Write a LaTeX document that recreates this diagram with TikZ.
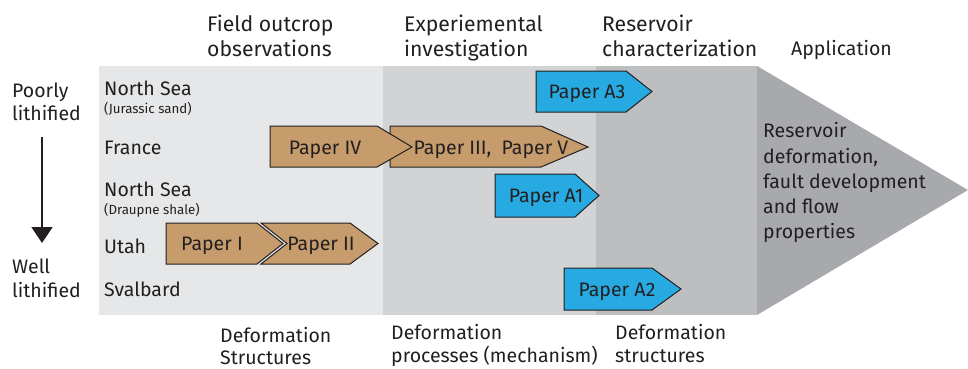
\documentclass[tikz,border=0pt]{standalone}
\usepackage{fontspec}
\setmainfont{Fira Sans}
\usetikzlibrary{arrows.meta}
\definecolor{pA}{HTML}{E6E7E8}
\definecolor{pB}{HTML}{D1D3D4}
\definecolor{pC}{HTML}{BCBEC0}
\definecolor{pD}{HTML}{A7A9AC}
\definecolor{tan}{HTML}{C69C6D}
\definecolor{cyanbox}{HTML}{27AAE1}
\definecolor{ink}{HTML}{231F20}
\begin{document}
\begin{tikzpicture}[x=1pt,y=-1pt,
  t/.style={anchor=base west, inner sep=0pt, text=ink, font=\fontsize{19.5}{23}\selectfont},
  th/.style={t, font=\fontsize{21.2}{25}\selectfont},
  ts/.style={t, font=\fontsize{13.3}{15}\selectfont},
  pt/.style={anchor=base, inner sep=0pt, text=ink, font=\fontsize{19.5}{23}\selectfont},
  brown/.style={fill=tan, draw=ink, line width=1pt, line join=miter},
  bluebox/.style={fill=cyanbox, draw=ink, line width=1pt, line join=miter}]
\useasboundingbox (0,0) rectangle (968,368);
% panels
\fill[pA] (99,66) rectangle (383,315);
\fill[pB] (383,66) rectangle (596,315);
\fill[pC] (596,66) rectangle (757,315);
\fill[pD] (757,66) -- (968,190) -- (757,315) -- cycle;
% headers
\node[th] (h1a) at (207,31) {Field outcrop};
\node[th] (h1b) at (207,56) {observations};
\node[th] (h2a) at (404,31) {Experiemental};
\node[th] (h2b) at (404,56) {investigation};
\node[th] (h3a) at (602,31) {Reservoir};
\node[th] (h3b) at (602,56) {characterization};
\node[t] (h4) at (791,55) {Application};
% left scale
\node[t] (poor1) at (12,97) {Poorly};
\node[t] (poor2) at (12,120) {lithified};
\node[t] (well1) at (12,273) {Well};
\node[t] (well2) at (12,297) {lithified};
\coordinate (arrS) at (42,137);
\coordinate (arrE) at (42,243);
\draw[ink, line width=1.4pt, -{Triangle[width=21pt,length=16pt]}] (arrS) -- (arrE);
% row labels
\node[t] (r1) at (104,95) {North Sea};
\node[ts] (r1s) at (104,113) {(Jurassic sand)};
\node[t] (r2) at (104,154) {France};
\node[t] (r3) at (104,196) {North Sea};
\node[ts] (r3s) at (104,214) {(Draupne shale)};
\node[t] (r4) at (104,253) {Utah};
\node[t] (r5) at (104,296) {Svalbard};
% brown arrows
\draw[brown] (390,126) -- (541,126) -- (588,147) -- (541,167) -- (390,167) -- cycle;
\draw[brown] (270,126) -- (377,126) -- (412,147) -- (377,167) -- (270,167) -- cycle;
\draw[brown] (261,223) -- (350,223) -- (378,243.5) -- (350,264) -- (261,264) -- (287,243.5) -- cycle;
\draw[brown] (166,223) -- (257,223) -- (283,243.5) -- (257,264) -- (166,264) -- cycle;
\node[pt] (p4) at (325,154) {Paper IV};
\node[pt] (p35) at (491,154) {Paper III,\ \ Paper V};
\node[pt] (p1) at (212,250.5) {Paper I};
\node[pt] (p2) at (321,250.5) {Paper II};
% blue arrows
\draw[bluebox] (536,71) -- (626,71) -- (652,91.5) -- (626,112) -- (536,112) -- cycle;
\draw[bluebox] (495,174) -- (575,174) -- (599,195.5) -- (575,217) -- (495,217) -- cycle;
\draw[bluebox] (564,268) -- (652,268) -- (681,289) -- (652,310) -- (564,310) -- cycle;
\node[pt] (a3) at (587,98.5) {Paper A3};
\node[pt] (a1) at (546,202.5) {Paper A1};
\node[pt] (a2) at (617,296) {Paper A2};
% application text
\node[t] (ap1) at (763,137) {Reservoir};
\node[t] (ap2) at (763,163) {deformation,};
\node[t] (ap3) at (763,188) {fault development};
\node[t] (ap4) at (763,213) {and flow};
\node[t] (ap5) at (763,238) {properties};
% bottom labels
\node[t] (b1a) at (220,342) {Deformation};
\node[t] (b1b) at (220,364) {Structures};
\node[t] (b2a) at (391,339) {Deformation};
\node[t] (b2b) at (391,362) {processes (mechanism)};
\node[t] (b3a) at (615,339) {Deformation};
\node[t] (b3b) at (615,362) {structures};
\end{tikzpicture}
\end{document}
